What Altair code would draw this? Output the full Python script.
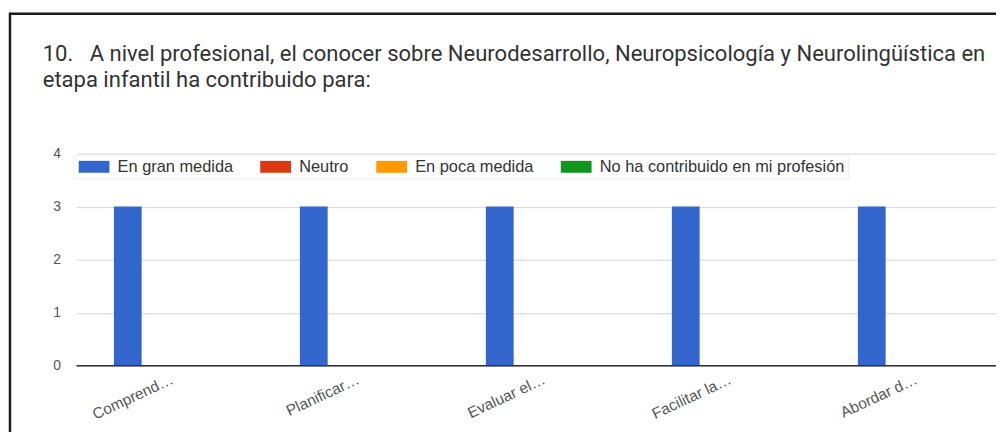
import altair as alt
import pandas as pd

# ---- data ----
categories = ["Comprend…", "Planificar…", "Evaluar el…", "Facilitar la…", "Abordar d…"]
series_names = ["En gran medida", "Neutro", "En poca medida", "No ha contribuido en mi profesión"]
en_gran_medida = [3, 3, 3, 3, 3]
neutro = [0, 0, 0, 0, 0]
en_poca_medida = [0, 0, 0, 0, 0]
no_ha_contribuido = [0, 0, 0, 0, 0]
series_colors = ["#3366cc", "#dc3912", "#ff9900", "#109618"]
y_ticks = [0, 0.5, 1, 1.5, 2, 2.5, 3, 3.5, 4]
title_lines = [
    "10.\u00a0\u00a0 A nivel profesional, el conocer sobre Neurodesarrollo, Neuropsicología y Neurolingüística en",
    "etapa infantil ha contribuido para:",
]

series_values = [en_gran_medida, neutro, en_poca_medida, no_ha_contribuido]
rows = []
for s, vals in zip(series_names, series_values):
    for c, v in zip(categories, vals):
        rows.append({"categoria": c, "serie": s, "valor": v})
df = pd.DataFrame(rows)

bars = alt.Chart(df).mark_bar().encode(
    x=alt.X(
        "categoria:N",
        sort=categories,
        scale=alt.Scale(range=[0, 937.5], paddingInner=0.4027, paddingOuter=0.2013),
        axis=alt.Axis(
            title=None, labelAngle=-25, labelAlign="right", labelBaseline="top",
            labelPadding=6, labelFontSize=15.5, labelFont="Liberation Sans",
            labelColor="#555555", ticks=False, domain=False, labelOverlap=False,
            labelLimit=0, grid=False, labelBound=False,
        ),
    ),
    xOffset=alt.XOffset("serie:N", sort=series_names,
                        scale=alt.Scale(paddingInner=0, paddingOuter=0)),
    y=alt.Y(
        "valor:Q",
        scale=alt.Scale(domain=[0, 4], nice=False),
        axis=alt.Axis(
            title=None, values=y_ticks, format="d",
            labelExpr="datum.value % 1 === 0 ? datum.label : ''",
            gridColor={"condition": {"test": "datum.value % 1 === 0", "value": "#d4d4d4"},
                       "value": "#ececec"},
            domain=False, ticks=False, labelPadding=16, labelFontSize=14,
            labelColor="#555555", labelFont="Liberation Sans",
        ),
    ),
    color=alt.Color(
        "serie:N",
        sort=series_names,
        scale=alt.Scale(domain=series_names, range=series_colors),
        legend=alt.Legend(
            title=None, orient="none", legendX=-3, legendY=2, direction="horizontal",
            symbolType="M-1,-1H4.17V1H-1Z", symbolSize=144, symbolStrokeWidth=0,
            symbolOpacity=1, labelFont="Liberation Sans", labelFontSize=16.5,
            labelColor="#333", labelOffset=25, columnPadding=25, padding=3,
            fillColor="#ffffff", strokeColor="#eeeeee", labelLimit=0,
        ),
    ),
)

one = pd.DataFrame({"k": [0]})
baseline = alt.Chart(one).mark_rule(color="#333333", strokeWidth=1.5).encode(y=alt.datum(0))

frame_top = alt.Chart(one).mark_rule(color="#1a1a1a", strokeWidth=2.5).encode(
    x=alt.value(-68), x2=alt.value(940), y=alt.value(-141)
)
frame_left = alt.Chart(one).mark_rule(color="#1a1a1a", strokeWidth=2.5).encode(
    x=alt.value(-67), y=alt.value(-142), y2=alt.value(300)
)

chart = alt.layer(bars, baseline, frame_top, frame_left).properties(
    width=927,
    height=214,
    padding={"left": 69, "top": 145, "right": 0, "bottom": 65},
    autosize=alt.AutoSizeParams(type="none"),
    background="white",
    title=alt.TitleParams(
        text=title_lines, anchor="start", frame="group", dx=-34, dy=80, offset=0,
        font="Roboto", fontSize=22.2, fontWeight="normal", color="#333333",
        lineHeight=26,
    ),
).configure_view(stroke=None)

chart.save("out.html", embed_options={"renderer": "svg", "actions": False})
